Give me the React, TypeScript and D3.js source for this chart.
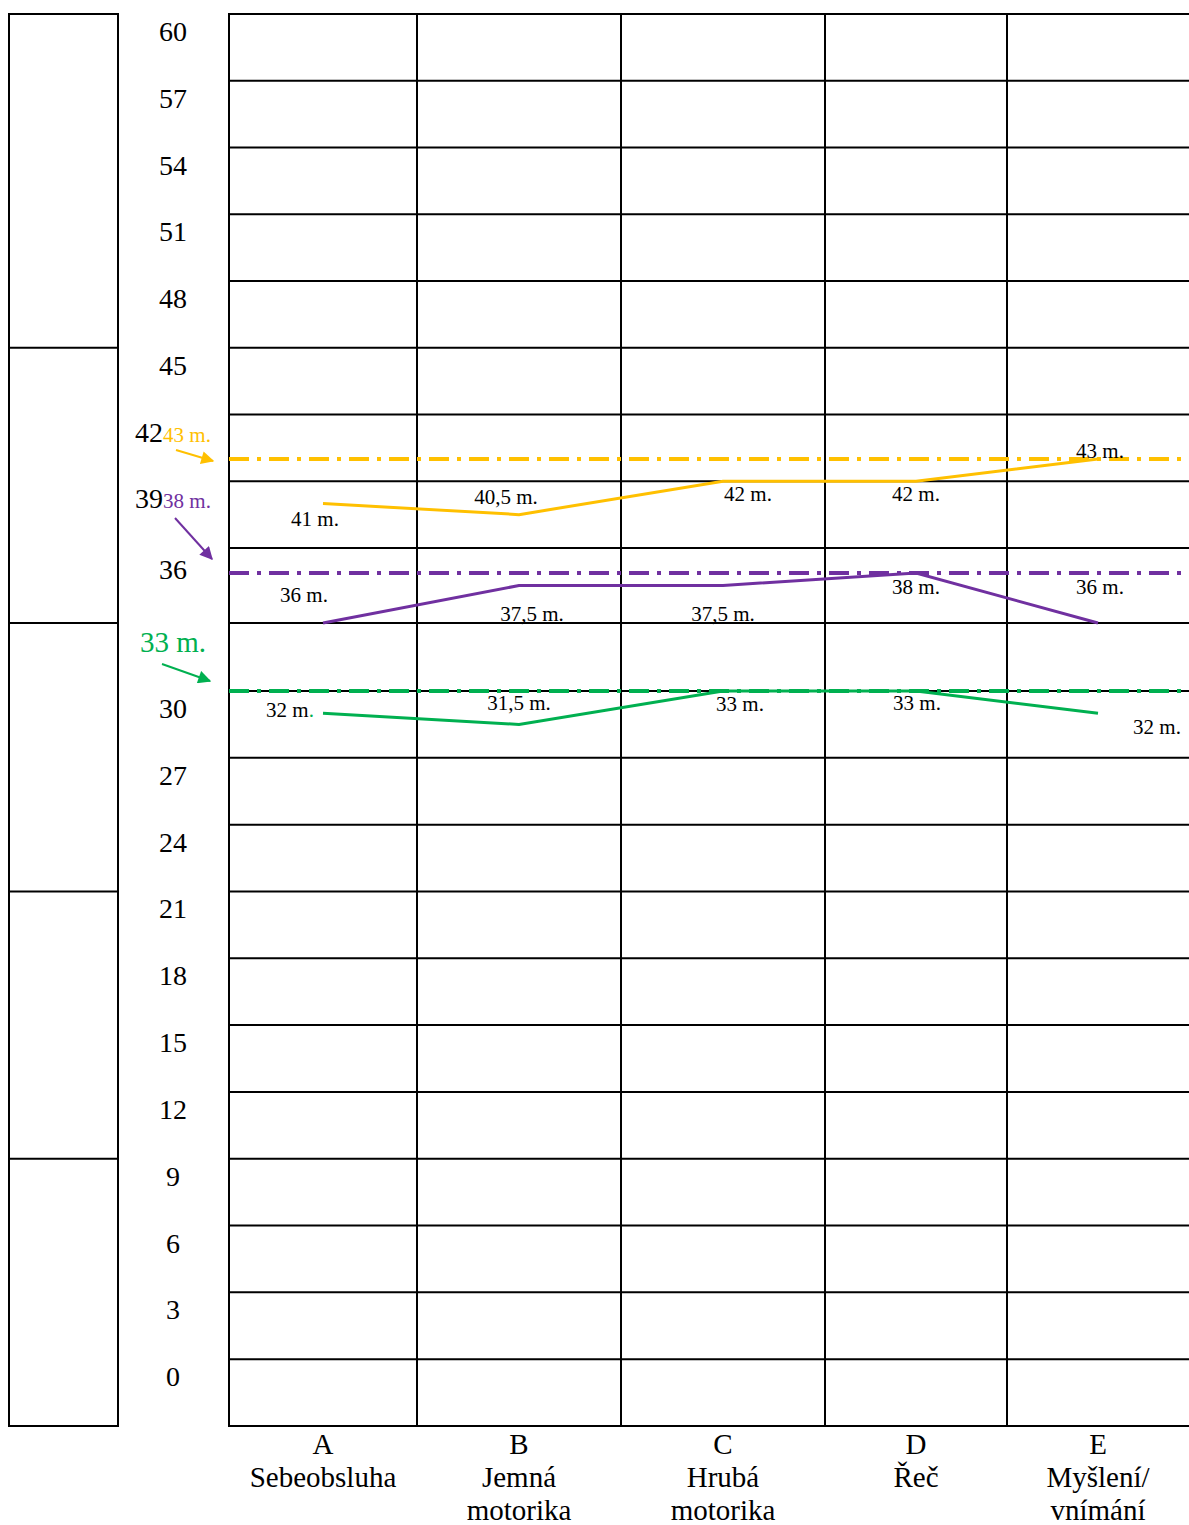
import React, { useEffect, useRef } from 'react';
import * as d3 from 'd3';

// categories along the bottom
const categories = ['A', 'B', 'C', 'D', 'E'];
const categoryNames = [['Sebeobsluha'], ['Jemná', 'motorika'], ['Hrubá', 'motorika'], ['Řeč'], ['Myšlení/', 'vnímání']];

// row labels (months), 33 is replaced by the green note
const yTicks = [60, 57, 54, 51, 48, 45, 42, 39, 36, 33, 30, 27, 24, 21, 18, 15, 12, 9, 6, 3, 0];
const groupBreaks = [63, 48, 36, 24, 12, 0];

// series values in months
const yellowValues = [41, 40.5, 42, 42, 43];
const purpleValues = [36, 37.5, 37.5, 38, 36];
const greenValues = [32, 31.5, 33, 33, 32];

// chronological age reference lines
const yellowRef = 43;
const purpleRef = 38;
const greenRef = 33;

const YELLOW = '#FFC000';
const PURPLE = '#7030A0';
const GREEN = '#00B050';
const FONT = '"Liberation Serif", "Times New Roman", serif';

const W = 1189;
const H = 1525;
const colEdges = [229, 417, 621, 825, 1007, 1189];

const fmt = (v: number) => String(v).replace('.', ',') + ' m.';

export default function App() {
  const ref = useRef<SVGSVGElement>(null);

  useEffect(() => {
    const svg = d3.select(ref.current);
    svg.selectAll('*').remove();

    const y = d3.scaleLinear().domain([0, 33, 36, 39, 63]).range([1426, 691, 623, 548, 14]);
    const xLeft = d3.scaleOrdinal<string, number>().domain(categories).range(colEdges.slice(0, 5));
    const xRight = d3.scaleOrdinal<string, number>().domain(categories).range(colEdges.slice(1));
    const xc = (c: string) => (xLeft(c) + xRight(c)) / 2;

    const defs = svg.append('defs');
    [['y', YELLOW], ['p', PURPLE], ['g', GREEN]].forEach(([id, col]) => {
      defs.append('marker')
        .attr('id', 'arr-' + id)
        .attr('viewBox', '0 0 10 10')
        .attr('refX', 9).attr('refY', 5)
        .attr('markerWidth', 7.5).attr('markerHeight', 6.5)
        .attr('orient', 'auto')
        .append('path').attr('d', 'M0,0 L10,5 L0,10 Z').attr('fill', col);
    });

    // left group boxes
    const left = svg.append('g').attr('stroke', '#000').attr('stroke-width', 2);
    left.append('line').attr('x1', 9).attr('x2', 9).attr('y1', y(63)).attr('y2', y(0));
    left.append('line').attr('x1', 118).attr('x2', 118).attr('y1', y(63)).attr('y2', y(0));
    left.selectAll('line.h').data(groupBreaks).join('line')
      .attr('class', 'h')
      .attr('x1', 8).attr('x2', 119)
      .attr('y1', d => y(d)).attr('y2', d => y(d));

    // grid
    const grid = svg.append('g').attr('stroke', '#000').attr('stroke-width', 2);
    grid.selectAll('line.h').data(d3.range(0, 64, 3)).join('line')
      .attr('class', 'h')
      .attr('x1', colEdges[0] - 1).attr('x2', W)
      .attr('y1', d => y(d)).attr('y2', d => y(d));
    grid.selectAll('line.v').data(colEdges.slice(0, 5)).join('line')
      .attr('class', 'v')
      .attr('x1', d => d).attr('x2', d => d)
      .attr('y1', y(63)).attr('y2', y(0));

    // row labels
    const rowLabels = svg.append('g').attr('font-family', FONT).attr('font-size', 28).attr('text-anchor', 'middle');
    yTicks.forEach(t => {
      const yy = y(t + 3) + 27;
      if (t === 33) {
        rowLabels.append('text').attr('x', 173).attr('y', yy + 2).attr('font-size', 29).attr('fill', GREEN).text(fmt(greenRef));
        return;
      }
      const txt = rowLabels.append('text').attr('x', 173).attr('y', t === 36 ? yy + 4 : yy);
      txt.append('tspan').text(String(t));
      if (t === 42) txt.append('tspan').attr('font-size', 21).attr('fill', YELLOW).text(fmt(yellowRef));
      if (t === 39) txt.append('tspan').attr('font-size', 21).attr('fill', PURPLE).text(fmt(purpleRef));
    });

    // arrows pointing at reference lines
    const arrows = [
      { col: YELLOW, id: 'y', x1: 176, y1: y(yellowRef) - 9, x2: 213, y2: y(yellowRef) + 2 },
      { col: PURPLE, id: 'p', x1: 175, y1: y(purpleRef) - 55, x2: 212, y2: y(purpleRef) - 14 },
      { col: GREEN, id: 'g', x1: 162, y1: y(greenRef) - 27, x2: 210, y2: y(greenRef) - 10 },
    ];
    svg.append('g').selectAll('line').data(arrows).join('line')
      .attr('x1', d => d.x1).attr('y1', d => d.y1)
      .attr('x2', d => d.x2).attr('y2', d => d.y2)
      .attr('stroke', d => d.col).attr('stroke-width', 2)
      .attr('marker-end', d => `url(#arr-${d.id})`);

    // dash-dot reference lines
    const refs = [
      { v: yellowRef, col: YELLOW },
      { v: purpleRef, col: PURPLE },
      { v: greenRef, col: GREEN },
    ];
    svg.append('g').selectAll('line').data(refs).join('line')
      .attr('x1', colEdges[0]).attr('x2', W)
      .attr('y1', d => y(d.v)).attr('y2', d => y(d.v))
      .attr('stroke', d => d.col).attr('stroke-width', 4)
      .attr('stroke-dasharray', '20 8 4 8');

    // series
    const series = [
      { values: yellowValues, col: YELLOW, offs: [[-8, 22], [-13, -11], [25, 20], [0, 20], [2, -1]] },
      { values: purpleValues, col: PURPLE, offs: [[-19, -21], [13, 35], [0, 35], [0, 21], [2, -29]] },
      { values: greenValues, col: GREEN, offs: [[-33, 4], [0, -14], [17, 20], [1, 19], [59, 21]] },
    ];
    const line = d3.line<number>().x((d, i) => xc(categories[i])).y(d => y(d));
    series.forEach(s => {
      svg.append('path')
        .attr('d', line(s.values))
        .attr('fill', 'none')
        .attr('stroke', s.col)
        .attr('stroke-width', 3);
      const lbl = svg.append('g').attr('font-family', FONT).attr('font-size', 21).attr('text-anchor', 'middle');
      s.values.forEach((v, i) => {
        const t = lbl.append('text')
          .attr('x', xc(categories[i]) + s.offs[i][0])
          .attr('y', y(v) + s.offs[i][1]);
        if (s.col === GREEN && i === 0) {
          // the full stop after the first green label is green in the original
          const str = fmt(v);
          t.append('tspan').text(str.slice(0, -1));
          t.append('tspan').attr('fill', GREEN).text('.');
        } else {
          t.text(fmt(v));
        }
      });
    });

    // category labels
    const bottom = svg.append('g').attr('font-family', FONT).attr('font-size', 29).attr('text-anchor', 'middle');
    categories.forEach((c, i) => {
      const t = bottom.append('text').attr('x', xc(c)).attr('y', y(0) + 28);
      t.append('tspan').attr('x', xc(c)).text(c);
      categoryNames[i].forEach(n => {
        t.append('tspan').attr('x', xc(c)).attr('dy', 33).text(n);
      });
    });
  }, []);

  return (
    <svg ref={ref} width={W} height={H}
      style={{ position: 'absolute', left: 0, top: 0, background: '#fff' }} />
  );
}
